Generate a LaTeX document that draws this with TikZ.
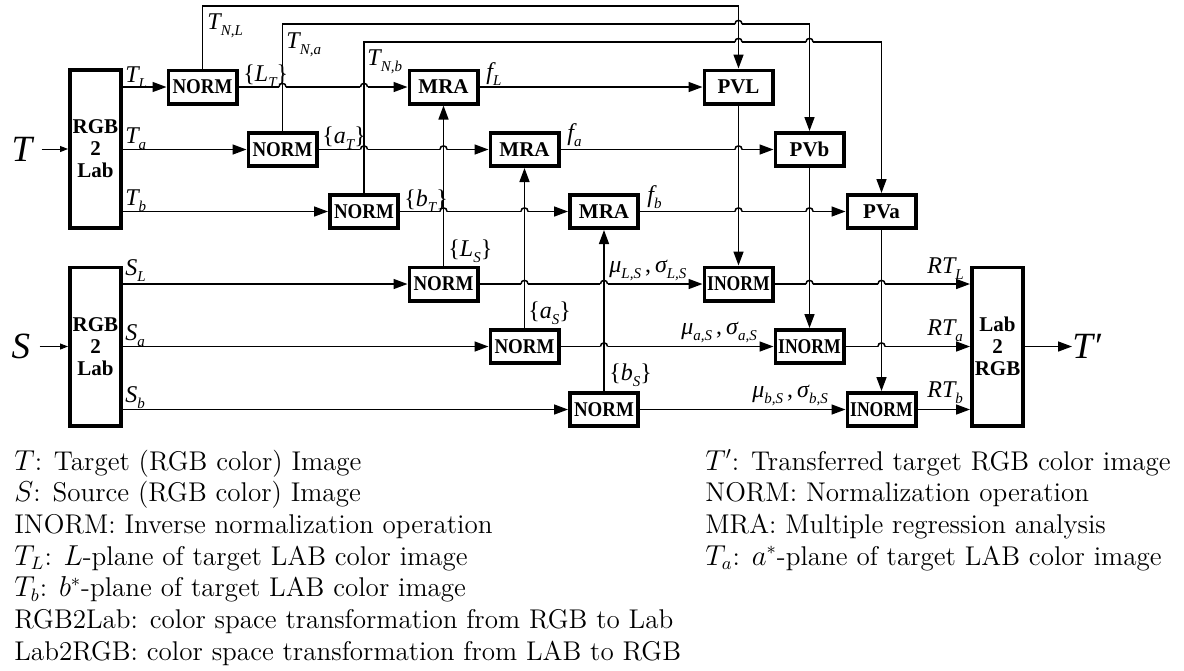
\documentclass[tikz,border=0pt]{standalone}
\usepackage{fontspec}
\usepackage{graphicx}
\usetikzlibrary{arrows.meta,calc}
\newfontfamily\tms{Liberation Serif}
\newcommand\bxf{\tms\bfseries\fontsize{10.5}{11}\selectfont}
\newcommand\lbf{\tms\itshape\fontsize{12}{12}\selectfont}
\newcommand\bigf{\tms\itshape\fontsize{18.5}{18.5}\selectfont}
\newcommand\sbs[1]{\raisebox{-3pt}{\fontsize{7.5}{7.5}\selectfont #1}}
\newcommand\ob{{\upshape\{}}
\newcommand\cb{{\upshape\}}}
% small bridge where a horizontal wire jumps over a vertical one
\newcommand\hop[2]{%
  \path (#1 |- #2) coordinate (hc);
  \fill[white] ([shift={(-3.6,-1.7)}]hc) rectangle ([shift={(3.6,1.7)}]hc);
  \draw[wire] ([shift={(0,-2)}]hc) -- ([shift={(0,2)}]hc);
  \draw[wire] ([shift={(-3.6,0)}]hc) .. controls ([shift={(-3.6,-4.8)}]hc) and ([shift={(3.6,-4.8)}]hc) .. ([shift={(3.6,0)}]hc);
}
\tikzset{
  blk/.style={draw, line width=1.8pt, fill=white, minimum width=34.2pt,
    minimum height=16.7pt, inner sep=0pt, font=\bxf},
  tall/.style={blk, minimum width=25.7pt, minimum height=79.2pt, align=center},
  wire/.style={line width=0.75pt},
  arr/.style={wire, -{Triangle[length=7pt,width=5pt]}},
  inarr/.style={line width=0.5pt, -{Triangle[length=4pt,width=3pt]}},
  lbl/.style={inner sep=0pt, anchor=base west, font=\lbf},
  leg/.style={inner sep=0pt, anchor=base west, font=\fontsize{13.55}{16}\selectfont},
}
\begin{document}
\begin{tikzpicture}[x=0.5pt,y=-0.5pt]
\useasboundingbox (0,0) rectangle (1184,670);

% colour conversion blocks
\node[tall] (rgbT) at (95.5,149) {RGB\\2\\Lab};
\node[tall] (rgbS) at (95.5,346.5) {RGB\\2\\Lab};
\node[tall] (lab) at (997.5,346.5) {Lab\\2\\RGB};

% target normalisation
\node[blk] (nL) at (202.5,87) {\scalebox{0.9}[1]{NORM}};
\node[blk] (nA) at (282.5,149.5) {\scalebox{0.9}[1]{NORM}};
\node[blk] (nB) at (364,211.5) {\scalebox{0.9}[1]{NORM}};
% regression
\node[blk] (mL) at (443.5,87) {MRA};
\node[blk] (mA) at (524.5,149.5) {MRA};
\node[blk] (mB) at (604,211.5) {MRA};
% prediction
\node[blk] (pL) at (738.5,87) {PVL};
\node[blk] (pB) at (809.5,149.5) {PVb};
\node[blk] (pA) at (881.5,211.5) {PVa};
% source normalisation
\node[blk] (sL) at (443.5,284) {\scalebox{0.9}[1]{NORM}};
\node[blk] (sA) at (524.5,346.5) {\scalebox{0.9}[1]{NORM}};
\node[blk] (sB) at (604,409.5) {\scalebox{0.9}[1]{NORM}};
% inverse normalisation
\node[blk] (iL) at (738.5,284) {\scalebox{0.84}[1]{INORM}};
\node[blk] (iA) at (809.5,346.5) {\scalebox{0.84}[1]{INORM}};
\node[blk] (iB) at (881.5,409.5) {\scalebox{0.84}[1]{INORM}};

% inputs and output
\node[inner sep=0pt, font=\bigf] (Tin) at (22,149) {T};
\node[inner sep=0pt, font=\bigf] (Sin) at (21,346.5) {S};
\node[inner sep=0pt, anchor=west, font=\bigf] (Tp) at (1072,346.5) {T′};

\coordinate (yL) at (0,6);
\coordinate (yA) at (0,24);
\coordinate (yB) at (0,42);

\draw[inarr] ([xshift=4.5pt]Tin.east) -- (rgbT.west |- Tin.east);
\draw[inarr] ([xshift=4.5pt]Sin.east) -- (rgbS.west |- Sin.east);
\draw[arr] (lab.east) -- (lab.east -| Tp.west);

% target channels
\draw[arr] (rgbT.east |- nL) -- (nL.west);
\draw[arr] (rgbT.east |- nA) -- (nA.west);
\draw[arr] (rgbT.east |- nB) -- (nB.west);
\draw[arr] (nL.east) -- (mL.west);
\draw[arr] (nA.east) -- (mA.west);
\draw[arr] (nB.east) -- (mB.west);
\draw[arr] (nL.north) -- (nL.north |- yL) -- (pL.north |- yL) -- (pL.north);
\draw[arr] (nA.north) -- (nA.north |- yA) -- (pB.north |- yA) -- (pB.north);
\draw[arr] (nB.north) -- (nB.north |- yB) -- (pA.north |- yB) -- (pA.north);
\draw[arr] (mL.east) -- (pL.west);
\draw[arr] (mA.east) -- (pB.west);
\draw[arr] (mB.east) -- (pA.west);

% source channels
\draw[arr] (rgbS.east |- sL) -- (sL.west);
\draw[arr] (rgbS.east |- sA) -- (sA.west);
\draw[arr] (rgbS.east |- sB) -- (sB.west);
\draw[arr] (sL.north) -- (mL.south);
\draw[arr] (sA.north) -- (mA.south);
\draw[arr] (sB.north) -- (mB.south);
\draw[arr] (sL.east) -- (iL.west);
\draw[arr] (sA.east) -- (iA.west);
\draw[arr] (sB.east) -- (iB.west);
\draw[arr] (pL.south) -- (iL.north);
\draw[arr] (pB.south) -- (iA.north);
\draw[arr] (pA.south) -- (iB.north);
\draw[arr] (iL.east) -- (lab.west |- iL);
\draw[arr] (iA.east) -- (lab.west |- iA);
\draw[arr] (iB.east) -- (lab.west |- iB);

% wire crossings
\hop{nA.north}{nL}
\hop{nB.north}{nL}
\hop{nB.north}{nA}
\hop{sL.north}{nA}
\hop{sL.north}{nB}
\hop{sA.north}{nB}
\hop{pL.north}{yA}
\hop{pL.north}{yB}
\hop{pB.north}{yB}
\hop{pL.south}{mA}
\hop{pL.south}{mB}
\hop{pB.south}{mB}
\hop{sA.north}{sL}
\hop{sB.north}{sL}
\hop{sB.north}{sA}
\hop{pB.south}{iL}
\hop{pA.south}{iL}
\hop{pA.south}{iA}

% signal labels
\node[lbl] at (125,82) {T\sbs{L}};
\node[lbl] at (125,143) {T\sbs{a}};
\node[lbl] at (125,205) {T\sbs{b}};
\node[lbl] at (125,275) {S\sbs{L}};
\node[lbl] at (125,340) {S\sbs{a}};
\node[lbl] at (125,402) {S\sbs{b}};
\node[lbl] at (243,81) {\ob L\sbs{T}\cb};
\node[lbl] at (322,143) {\ob a\sbs{T}\cb};
\node[lbl] at (404,206) {\ob b\sbs{T}\cb};
\node[lbl] at (207,29) {T\sbs{N,L}};
\node[lbl] at (286,48) {T\sbs{N,a}};
\node[lbl] at (367,65) {T\sbs{N,b}};
\node[lbl] at (486,79) {f\sbs{L}};
\node[lbl] at (567,140) {f\sbs{a}};
\node[lbl] at (647,202) {f\sbs{b}};
\node[lbl] at (448,256) {\ob L\sbs{S}\cb};
\node[lbl] at (528,318) {\ob a\sbs{S}\cb};
\node[lbl] at (609,380) {\ob b\sbs{S}\cb};
\node[lbl] at (609,272) {μ\sbs{L,S}\,{\upshape,}\,σ\sbs{L,S}};
\node[lbl] at (681,334) {μ\sbs{a,S}\,{\upshape,}\,σ\sbs{a,S}};
\node[lbl] at (752,397) {μ\sbs{b,S}\,{\upshape,}\,σ\sbs{b,S}};
\node[lbl] at (927,273) {RT\sbs{L}};
\node[lbl] at (927,335) {RT\sbs{a}};
\node[lbl] at (927,397) {RT\sbs{b}};

% legend
\node[leg] at (14,470) {$T$: Target (RGB color) Image};
\node[leg] at (14,501.7) {$S$: Source (RGB color) Image};
\node[leg] at (14,533.4) {INORM: Inverse normalization operation};
\node[leg] at (14,565.1) {$T_L$: $L$-plane of target LAB color image};
\node[leg] at (14,596.8) {$T_b$: $b^*$-plane of target LAB color image};
\node[leg] at (14,628.5) {RGB2Lab: color space transformation from RGB to Lab};
\node[leg] at (14,660.2) {Lab2RGB: color space transformation from LAB to RGB};
\node[leg] at (705,470) {$T'$: Transferred target RGB color image};
\node[leg] at (705,501.7) {NORM: Normalization operation};
\node[leg] at (705,533.4) {MRA: Multiple regression analysis};
\node[leg] at (705,565.1) {$T_a$: $a^*$-plane of target LAB color image};
\end{tikzpicture}
\end{document}
